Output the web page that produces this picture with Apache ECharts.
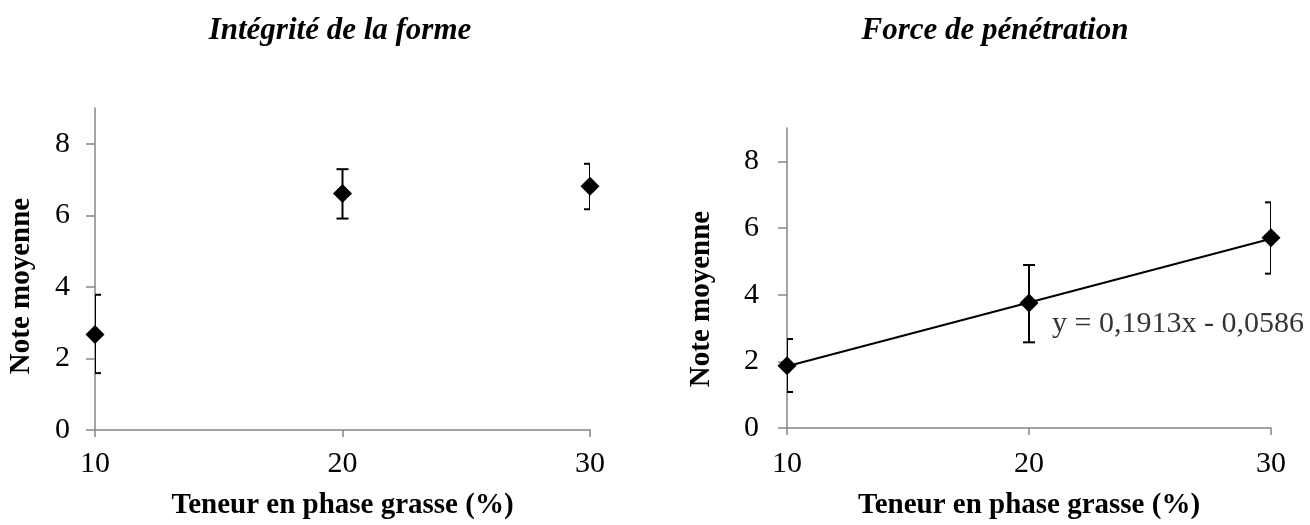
<!DOCTYPE html>
<html>
<head>
<meta charset="utf-8">
<script src="https://cdn.jsdelivr.net/npm/echarts@6/dist/echarts.min.js"></script>
<style>
  html, body { margin: 0; padding: 0; background: #fff; }
  #chart { width: 1310px; height: 525px; }
</style>
</head>
<body>
<div id="chart"></div>
<script>
// ---- Data ----
const xValues = [10, 20, 30];
const xTicks = [10, 20, 30];
const yTicks = [0, 2, 4, 6, 8];

const formeMean = [2.67, 6.61, 6.81];
const formeLow  = [1.59, 5.91, 6.17];
const formeHigh = [3.78, 7.29, 7.44];

const forceMean = [1.87, 3.75, 5.71];
const forceLow  = [1.08, 2.57, 4.63];
const forceHigh = [2.67, 4.89, 6.77];

const trendX = [10, 30];
const trendY = [1.854, 5.68];
const eqText = 'y = 0,1913x - 0,0586';
const eqAt = [20.95, 3.12];

const titleLeft = 'Intégrité de la forme';
const titleRight = 'Force de pénétration';
const xName = 'Teneur en phase grasse (%)';
const yName = 'Note moyenne';

// ---- Chart ----
const FONT = '"Liberation Serif", "Times New Roman", serif';
const AXIS_COLOR = '#868686';

function pts(xs, ys) { return xs.map((x, i) => [x, ys[i]]); }
function bars(xs, lo, hi) { return xs.map((x, i) => [x, lo[i], hi[i]]); }

function errorRender(params, api) {
  const x = api.value(0), lo = api.value(1), hi = api.value(2);
  const a = api.coord([x, lo]);
  const b = api.coord([x, hi]);
  const w = 6;
  const st = { stroke: '#000', lineWidth: 2 };
  return {
    type: 'group',
    children: [
      { type: 'line', shape: { x1: a[0], y1: a[1], x2: b[0], y2: b[1] }, style: st },
      { type: 'line', shape: { x1: a[0] - w, y1: a[1], x2: a[0] + w, y2: a[1] }, style: st },
      { type: 'line', shape: { x1: b[0] - w, y1: b[1], x2: b[0] + w, y2: b[1] }, style: st }
    ]
  };
}

function xAxis(idx, labelMargin, nameGap) {
  return {
    type: 'value', gridIndex: idx, min: 10, max: 30, interval: 10,
    name: xName, nameLocation: 'middle', nameGap: nameGap,
    nameTextStyle: { fontFamily: FONT, fontWeight: 'bold', fontSize: 29, color: '#000', verticalAlign: 'top' },
    axisLine: { show: true, lineStyle: { color: AXIS_COLOR, width: 1.5 } },
    axisTick: { show: true, inside: false, length: 7, customValues: xTicks, lineStyle: { color: AXIS_COLOR, width: 1.5 } },
    axisLabel: { show: true, customValues: xTicks, margin: labelMargin, fontFamily: FONT, fontSize: 30, color: '#000' },
    splitLine: { show: false }
  };
}

function yAxis(idx, labelMargin) {
  return {
    type: 'value', gridIndex: idx, min: 0, max: 9, interval: 2,
    axisLine: { show: true, lineStyle: { color: AXIS_COLOR, width: 1.5 } },
    axisTick: { show: true, inside: false, length: 9, customValues: yTicks, lineStyle: { color: AXIS_COLOR, width: 1.5 } },
    axisLabel: { show: true, customValues: yTicks, margin: labelMargin, fontFamily: FONT, fontSize: 30, color: '#000' },
    splitLine: { show: false }
  };
}

const chart = echarts.init(document.getElementById('chart'), null, { renderer: 'canvas' });

const option = {
  backgroundColor: '#fff',
  animation: false,
  title: [
    { text: titleLeft, left: 335, top: 10, textAlign: 'center',
      textStyle: { fontFamily: FONT, fontStyle: 'italic', fontWeight: 'bold', fontSize: 31, color: '#000' } },
    { text: titleRight, left: 990, top: 10, textAlign: 'center',
      textStyle: { fontFamily: FONT, fontStyle: 'italic', fontWeight: 'bold', fontSize: 31, color: '#000' } }
  ],
  grid: [
    { left: 95, right: 720, top: 108, bottom: 94, containLabel: false },
    { left: 787, right: 39, top: 128, bottom: 96, containLabel: false }
  ],
  xAxis: [xAxis(0, 19, 61), xAxis(1, 21, 63)],
  yAxis: [yAxis(0, 25), yAxis(1, 28)],
  graphic: [
    { type: 'text', x: 22, y: 286, rotation: Math.PI / 2,
      style: { text: yName, fontFamily: FONT, fontWeight: 'bold', fontSize: 29, fill: '#000', align: 'center', verticalAlign: 'middle' } },
    { type: 'text', x: 702, y: 299, rotation: Math.PI / 2,
      style: { text: yName, fontFamily: FONT, fontWeight: 'bold', fontSize: 29, fill: '#000', align: 'center', verticalAlign: 'middle' } }
  ],
  series: [
    { type: 'custom', xAxisIndex: 0, yAxisIndex: 0, clip: true, renderItem: errorRender,
      data: bars(xValues, formeLow, formeHigh), z: 2 },
    { type: 'scatter', xAxisIndex: 0, yAxisIndex: 0, symbol: 'diamond', symbolSize: [19, 19],
      itemStyle: { color: '#000', opacity: 1 }, data: pts(xValues, formeMean), z: 3, clip: false },

    { type: 'line', xAxisIndex: 1, yAxisIndex: 1, data: pts(trendX, trendY), symbol: 'none',
      lineStyle: { color: '#000', width: 2 }, z: 2 },
    { type: 'custom', xAxisIndex: 1, yAxisIndex: 1, clip: true, renderItem: errorRender,
      data: bars(xValues, forceLow, forceHigh), z: 2 },
    { type: 'scatter', xAxisIndex: 1, yAxisIndex: 1, symbol: 'diamond', symbolSize: [19, 19],
      itemStyle: { color: '#000', opacity: 1 }, data: pts(xValues, forceMean), z: 3, clip: false },
    { type: 'scatter', xAxisIndex: 1, yAxisIndex: 1, symbolSize: 0, data: [eqAt], silent: true,
      label: { show: true, position: 'right', distance: 0, formatter: eqText,
        fontFamily: FONT, fontSize: 30, color: '#000' }, z: 4 }
  ]
};

chart.setOption(option);
</script>
</body>
</html>
